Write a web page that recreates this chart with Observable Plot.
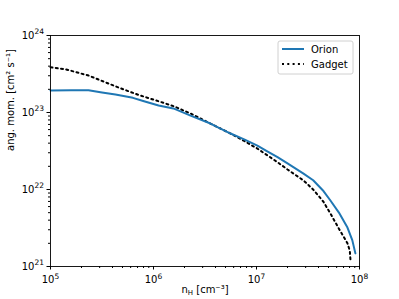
<!DOCTYPE html>
<html><head><meta charset="utf-8">
<script src="https://cdn.jsdelivr.net/npm/d3@7"></script>
<script src="https://cdn.jsdelivr.net/npm/@observablehq/plot@0.6"></script>
<style>body{margin:0;background:#fff}</style>
</head><body><div id="chart"></div>
<script>
const orionN = [1e5,1.585e5,2.34e5,3.16e5,4.27e5,6.31e5,7.94e5,1.12e6,1.56e6,2.29e6,3.57e6,5.6e6,7.59e6,1.02e7,1.26e7,1.6e7,2.0e7,2.86e7,3.55e7,4.47e7,5.22e7,6.31e7,7.64e7,8.51e7,9.12e7];
const orionL = [1.93e23,1.95e23,1.95e23,1.82e23,1.71e23,1.55e23,1.41e23,1.23e23,1.13e23,9.12e22,7.19e22,5.33e22,4.47e22,3.72e22,3.16e22,2.63e22,2.19e22,1.61e22,1.32e22,9.55e21,7.19e21,5.01e21,3.2e21,2.2e21,1.48e21];
const gadgetN = [1e5,1.41e5,2.34e5,3.16e5,4.57e5,7.08e5,1.12e6,1.56e6,2.29e6,3.57e6,5.6e6,7.59e6,1.02e7,1.6e7,2.0e7,2.86e7,3.55e7,4.47e7,5.22e7,6.31e7,7.64e7,8.05e7,8.18e7];
const gadgetL = [3.87e23,3.63e23,3.02e23,2.57e23,2.11e23,1.70e23,1.40e23,1.21e23,9.7e22,7.19e22,5.33e22,4.27e22,3.40e22,2.26e22,1.82e22,1.31e22,1.0e22,6.92e21,4.88e21,3.1e21,2.0e21,1.6e21,1.20e21];
const xMajor = [1e5,1e6,1e7,1e8];
const yMajor = [1e21,1e22,1e23,1e24];
const seriesNames = ["Orion","Gadget"];

const orion = orionN.map((n,i)=>({n, L: orionL[i]}));
const gadget = gadgetN.map((n,i)=>({n, L: gadgetL[i]}));
const minors = (majors) => majors.slice(0,-1).flatMap(m => d3.range(2,10).map(k => k*m));
const fmt = v => "10^" + Math.round(Math.log10(v));

const svg = Plot.plot({
  width: 399, height: 299,
  marginLeft: 50, marginRight: 40, marginTop: 35, marginBottom: 33,
  style: {fontFamily: "DejaVu Sans", fontSize: "10px", background: "white", color: "black"},
  x: {type: "log", domain: [1e5, 1e8]},
  y: {type: "log", domain: [1e21, 1e24]},
  marks: [
    Plot.axisX(xMajor, {tickSize: 3.5, tickPadding: 6, tickFormat: fmt, label: null, fontSize: 10}),
    Plot.axisX(minors(xMajor), {tickSize: 2, tickFormat: () => "", label: null}),
    Plot.axisY(yMajor, {tickSize: 3.5, tickPadding: 3, tickFormat: fmt, label: null, fontSize: 10}),
    Plot.axisY(minors(yMajor), {tickSize: 2, tickFormat: () => "", label: null}),
    Plot.line(gadget, {x: "n", y: "L", stroke: "black", strokeWidth: 2, strokeDasharray: "2,3.3"}),
    Plot.line(orion, {x: "n", y: "L", stroke: "#1f77b4", strokeWidth: 2}),
    Plot.frame({stroke: "black", strokeWidth: 0.9}),
    Plot.text(["nH [cm⁻³]"], {frameAnchor: "bottom", dy: 26, text: d => d, fontSize: 10, fill: "black"}),
    Plot.text(["ang. mom. [cm² s⁻¹]"], {frameAnchor: "left", dx: -40, rotate: -90, text: d => d, fontSize: 10, fill: "black"})
  ]
});

const s = d3.select(svg);
// superscript exponents in tick labels
s.selectAll("text").filter(function(){return /^10\^\d+$/.test(this.textContent);}).each(function(){
  const t = d3.select(this);
  const exp = this.textContent.split("^")[1];
  t.text("");
  t.append("tspan").text("10");
  t.append("tspan").attr("font-size", 7.5).attr("dy", -4.5).text(exp);
});
s.selectAll("text").filter(function(){return this.textContent === "nH [cm⁻³]";}).each(function(){
  const t = d3.select(this);
  t.text("");
  t.append("tspan").text("n");
  t.append("tspan").attr("font-size", 7).attr("dy", 2.5).text("H");
  t.append("tspan").attr("dy", -2.5).text(" [cm⁻³]");
});

// legend
const lg = s.append("g").attr("font-family", "DejaVu Sans").attr("font-size", 10).attr("text-anchor", "start");
lg.append("rect").attr("x", 278).attr("y", 41).attr("width", 75).attr("height", 33).attr("rx", 2)
  .attr("fill", "white").attr("fill-opacity", 0.8).attr("stroke", "#d0d0d0");
lg.append("line").attr("x1", 282).attr("x2", 304).attr("y1", 49).attr("y2", 49).attr("stroke", "#1f77b4").attr("stroke-width", 2);
lg.append("line").attr("x1", 282).attr("x2", 304).attr("y1", 64).attr("y2", 64).attr("stroke", "black").attr("stroke-width", 2).attr("stroke-dasharray", "2,3.3");
lg.append("text").attr("x", 311).attr("y", 53).attr("text-anchor", "start").attr("fill", "black").text(seriesNames[0]);
lg.append("text").attr("x", 311).attr("y", 68).attr("text-anchor", "start").attr("fill", "black").text(seriesNames[1]);

document.getElementById("chart").appendChild(svg);
</script></body></html>
